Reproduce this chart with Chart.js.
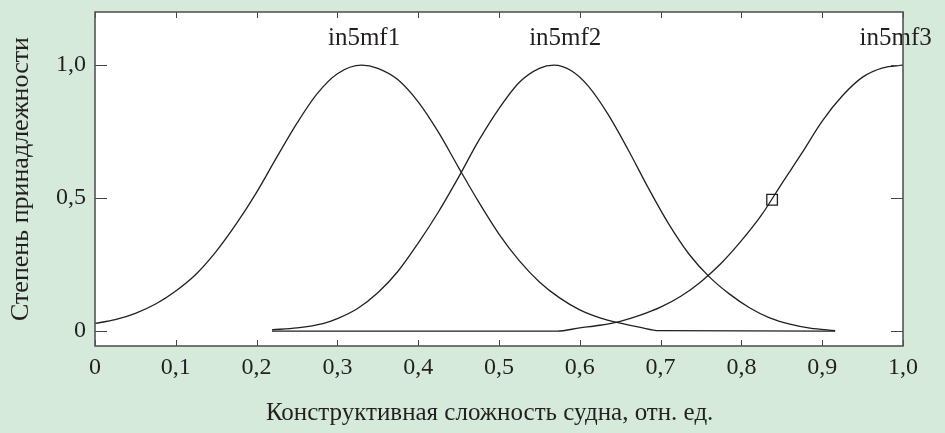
<!DOCTYPE html>
<html>
<head>
<meta charset="utf-8">
<script src="https://cdn.jsdelivr.net/npm/chart.js@4.4.1/dist/chart.umd.min.js"></script>
<style>
  html, body { margin: 0; padding: 0; background: #d6eadb; }
  #wrap { width: 945px; height: 433px; position: relative; }
</style>
</head>
<body>
<div id="wrap"><canvas id="c" width="945" height="433"></canvas></div>
<script>
// ---- data ----
const curveNames = ["in5mf1", "in5mf2", "in5mf3"];

const mf1X = [0.000, 0.025, 0.050, 0.075, 0.100, 0.125, 0.150, 0.175, 0.200, 0.225, 0.250, 0.275, 0.300, 0.330, 0.350, 0.375, 0.400, 0.425, 0.450, 0.475, 0.500, 0.525, 0.550, 0.575, 0.600, 0.625, 0.650, 0.675, 0.698, 0.916];
const mf1Y = [0.029, 0.043, 0.067, 0.102, 0.151, 0.214, 0.300, 0.404, 0.522, 0.654, 0.782, 0.893, 0.968, 1.000, 0.988, 0.945, 0.862, 0.748, 0.615, 0.485, 0.365, 0.265, 0.185, 0.125, 0.080, 0.050, 0.030, 0.014, 0.002, 0.000];

const mf2X = [0.219, 0.250, 0.282, 0.300, 0.325, 0.350, 0.375, 0.400, 0.425, 0.450, 0.475, 0.500, 0.525, 0.550, 0.568, 0.590, 0.610, 0.635, 0.660, 0.685, 0.710, 0.735, 0.760, 0.785, 0.810, 0.835, 0.860, 0.885, 0.916];
const mf2Y = [0.005, 0.012, 0.028, 0.047, 0.085, 0.144, 0.225, 0.331, 0.448, 0.579, 0.717, 0.837, 0.935, 0.988, 1.000, 0.978, 0.923, 0.815, 0.681, 0.537, 0.403, 0.290, 0.205, 0.140, 0.088, 0.050, 0.026, 0.011, 0.002];

const mf3X = [0.219, 0.572, 0.600, 0.625, 0.650, 0.675, 0.700, 0.725, 0.750, 0.775, 0.800, 0.825, 0.850, 0.875, 0.900, 0.925, 0.950, 0.975, 1.000];
const mf3Y = [0.000, 0.000, 0.012, 0.022, 0.037, 0.060, 0.090, 0.131, 0.186, 0.255, 0.340, 0.437, 0.555, 0.670, 0.790, 0.885, 0.955, 0.990, 1.000];

const markerX = [0.838];
const markerY = [0.494];

const xTicks = [0, 0.1, 0.2, 0.3, 0.4, 0.5, 0.6, 0.7, 0.8, 0.9, 1.0];
const yTicks = [0, 0.5, 1.0];
const labelX = [0.333, 0.582, 0.991];
const labelY = 1.10;

const xTitle = "Конструктивная сложность судна, отн. ед.\u00a0\u00a0\u00a0";
const yTitle = "Степень принадлежности";

// ---- helpers ----
const INK = "#231f20";
const FONT = "'Liberation Serif', 'DejaVu Serif', serif";
const zip = (xs, ys) => xs.map((x, i) => ({ x: x, y: ys[i] }));
const fmt = v => (v === 0 ? "0" : Number(v).toFixed(1).replace(".", ","));

const lineDs = (name, xs, ys) => ({
  label: name,
  data: zip(xs, ys),
  borderColor: INK,
  borderWidth: 1.3,
  pointRadius: 0,
  fill: false,
  showLine: true,
  cubicInterpolationMode: "monotone"
});

const framePlugin = {
  id: "frame",
  beforeDraw(chart) {
    const { ctx, chartArea: a } = chart;
    ctx.save();
    ctx.fillStyle = "#ffffff";
    ctx.fillRect(a.left, a.top, a.right - a.left, a.bottom - a.top);
    ctx.restore();
  },
  afterDraw(chart) {
    const { ctx, chartArea: a, scales } = chart;
    const xs = scales.x, ys = scales.y;
    ctx.save();
    ctx.strokeStyle = "#444";
    ctx.lineWidth = 1;
    xTicks.forEach(v => {
      const px = Math.round(xs.getPixelForValue(v)) + 0.5;
      ctx.beginPath();
      ctx.moveTo(px, a.bottom); ctx.lineTo(px, a.bottom - 6);
      ctx.moveTo(px, a.top); ctx.lineTo(px, a.top + 6);
      ctx.stroke();
    });
    yTicks.forEach(v => {
      const py = Math.round(ys.getPixelForValue(v)) + 0.5;
      ctx.beginPath();
      ctx.moveTo(a.left, py); ctx.lineTo(a.left + 12, py);
      ctx.moveTo(a.right, py); ctx.lineTo(a.right - 12, py);
      ctx.stroke();
    });
    ctx.fillStyle = INK;
    ctx.font = "25px " + FONT;
    ctx.textAlign = "center";
    ctx.textBaseline = "middle";
    curveNames.forEach((n, i) => {
      ctx.fillText(n, xs.getPixelForValue(labelX[i]), ys.getPixelForValue(labelY));
    });
    ctx.strokeStyle = "#555";
    ctx.lineWidth = 1.6;
    ctx.strokeRect(a.left, a.top, a.right - a.left, a.bottom - a.top);
    ctx.restore();
  }
};

new Chart(document.getElementById("c"), {
  type: "scatter",
  data: {
    datasets: [
      lineDs(curveNames[0], mf1X, mf1Y),
      lineDs(curveNames[1], mf2X, mf2Y),
      lineDs(curveNames[2], mf3X, mf3Y),
      {
        label: "marker",
        data: zip(markerX, markerY),
        showLine: false,
        pointStyle: "rect",
        pointRadius: 7.5,
        pointBorderWidth: 1.3,
        pointBorderColor: INK,
        pointBackgroundColor: "rgba(0,0,0,0)"
      }
    ]
  },
  options: {
    responsive: false,
    animation: false,
    layout: { autoPadding: false, padding: { left: 0, right: 42, top: 12, bottom: 0 } },
    plugins: { legend: { display: false }, tooltip: { enabled: false } },
    scales: {
      x: {
        type: "linear",
        min: 0, max: 1,
        afterBuildTicks: s => { s.ticks = xTicks.map(v => ({ value: v })); },
        afterFit: s => { s.height = 87; s.paddingLeft = 0; s.paddingRight = 0; },
        grid: { display: false, drawTicks: false },
        border: { display: false },
        ticks: {
          padding: 7,
          color: INK,
          font: { family: FONT, size: 24 },
          callback: v => fmt(v),
          maxRotation: 0, autoSkip: false
        },
        title: {
          display: true,
          text: xTitle,
          color: INK,
          font: { family: FONT, size: 25 },
          padding: { top: 0, bottom: 5 }
        }
      },
      y: {
        type: "linear",
        min: -0.056, max: 1.2,
        afterBuildTicks: s => { s.ticks = yTicks.map(v => ({ value: v })); },
        afterFit: s => { s.width = 95; s.paddingTop = 0; s.paddingBottom = 0; },
        grid: { display: false, drawTicks: false },
        border: { display: false },
        ticks: {
          padding: 9,
          color: INK,
          font: { family: FONT, size: 24 },
          callback: v => fmt(v)
        },
        title: {
          display: true,
          text: yTitle,
          color: INK,
          font: { family: FONT, size: 26 },
          padding: { top: 6, bottom: 0 }
        }
      }
    }
  },
  plugins: [framePlugin]
});
</script>
</body>
</html>
